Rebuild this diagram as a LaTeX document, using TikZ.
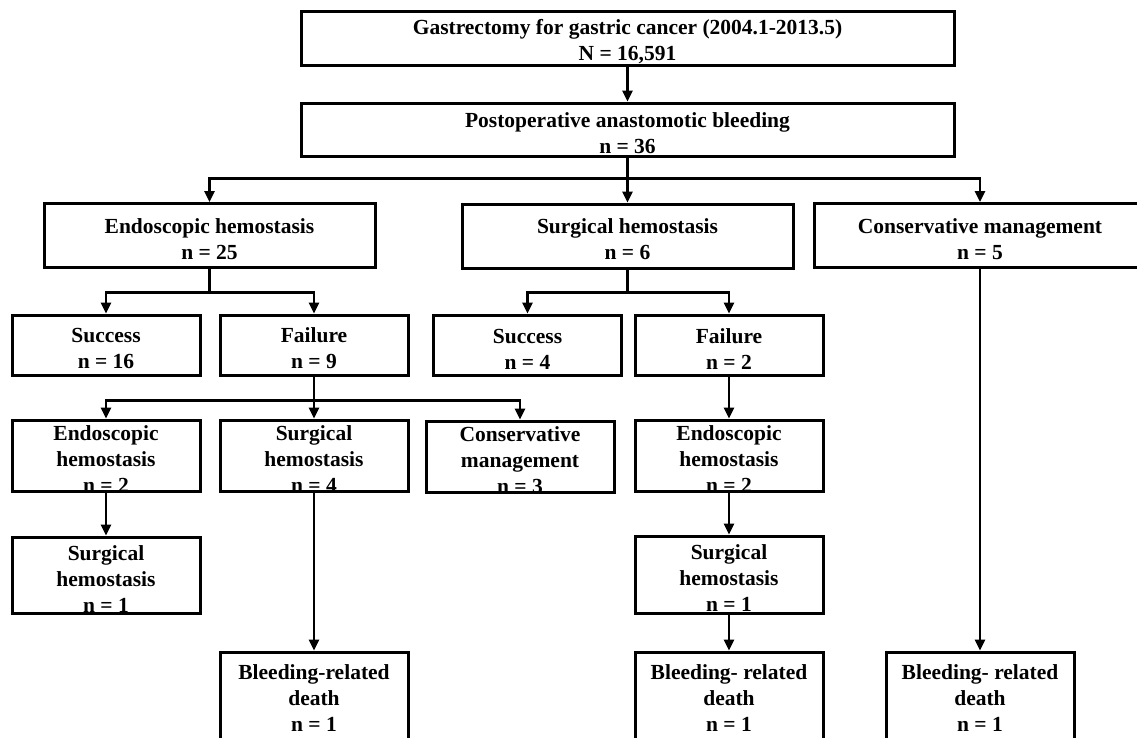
\documentclass[tikz,border=0pt]{standalone}
\usepackage{fontspec}
\setmainfont{Liberation Serif}
\usetikzlibrary{arrows.meta}
\newcommand{\up}{\rule{0pt}{22pt}}
\tikzset{
  box/.style={draw,line width=3pt,align=center,inner sep=0pt,
    font=\bfseries\fontsize{21.5}{26}\selectfont},
  widebox/.style={box,minimum width=653pt,minimum height=54pt},
  midbox/.style={box,minimum width=331pt,minimum height=64pt},
  smallbox/.style={box,minimum width=188pt,minimum height=60pt},
  tallbox/.style={box,inner ysep=-2pt,minimum width=188pt,minimum height=71pt},
  deathbox/.style={box,minimum width=188pt,minimum height=92pt},
  arr/.style={line width=2.5pt,-{Triangle[length=11pt,width=10pt]}},
  link/.style={line width=2.5pt}
}
\begin{document}
\begin{tikzpicture}[x=1pt,y=-1pt]
    \useasboundingbox(0,0)rectangle(1137,737);
    % first two levels
    \node[widebox](gast)at(627.5,38){\up Gastrectomy for gastric cancer (2004.1-2013.5)\\N = 16,591};
    \node[widebox,minimum height=53pt](pab)at(627.5,129.5){\up Postoperative anastomotic bleeding\\n = 36};
    \node[midbox](endo)at(209.5,235.5){\up Endoscopic hemostasis\\n = 25};
    \node[midbox](surg)at(627.5,236){\up Surgical hemostasis\\n = 6};
    \node[midbox,minimum width=332pt](cons)at(980,235.5){\up Conservative management\\n = 5};
    % outcomes
    \node[smallbox](esucc)at(106,345){\up Success\\n = 16};
    \node[smallbox](efail)at(314,345){\up Failure\\n = 9};
    \node[smallbox](ssucc)at(527.5,345){\up Success\\n = 4};
    \node[smallbox](sfail)at(729,345){\up Failure\\n = 2};
    % after failure
    \node[tallbox](ee)at(106,455.5){\up Endoscopic\\hemostasis\\n = 2};
    \node[tallbox](es)at(314,455.5){\up Surgical\\hemostasis\\n = 4};
    \node[tallbox](ec)at(520,456.5){\up Conservative\\management\\n = 3};
    \node[tallbox](se)at(729,455.5){\up Endoscopic\\hemostasis\\n = 2};
    \node[smallbox,minimum height=76pt](ees)at(106,575){\up Surgical\\hemostasis\\n = 1};
    \node[smallbox,minimum height=77pt](ses)at(729,574.5){\up Surgical\\hemostasis\\n = 1};
    % deaths
    \node[deathbox](esd)at(314,698){Bleeding-related\\death\\n = 1};
    \node[deathbox](sesd)at(729,698){Bleeding- related\\death\\n = 1};
    \node[deathbox](cd)at(980,698){Bleeding- related\\death\\n = 1};
    % connectors
    \draw[arr](gast)--(pab);
    \path(pab.south)++(0,21)coordinate(j0);
    \draw[arr](pab.south)--(surg.north);
    \draw[arr](j0)-|(endo.north);\draw[arr](j0)-|(cons.north);
    \path(endo.south)++(0,23.5)coordinate(j1);
    \draw[link](endo.south)--(j1);
    \draw[arr](j1)-|(esucc.north);\draw[arr](j1)-|(efail.north);
    \path(surg.south)++(0,23)coordinate(j2);
    \draw[link](surg.south)--(j2);
    \draw[arr](j2)-|(ssucc.north);\draw[arr](j2)-|(sfail.north);
    \path(efail.south)++(0,24)coordinate(j3);
    \draw[arr](efail.south)--(es.north);
    \draw[arr](j3)-|(ee.north);\draw[arr](j3)-|(ec.north);
    \draw[arr](ee)--(ees);\draw[arr](es)--(esd);
    \draw[arr](sfail)--(se);\draw[arr](se)--(ses);\draw[arr](ses)--(sesd);
    \draw[arr](cons)--(cd);
\end{tikzpicture}
\end{document}
